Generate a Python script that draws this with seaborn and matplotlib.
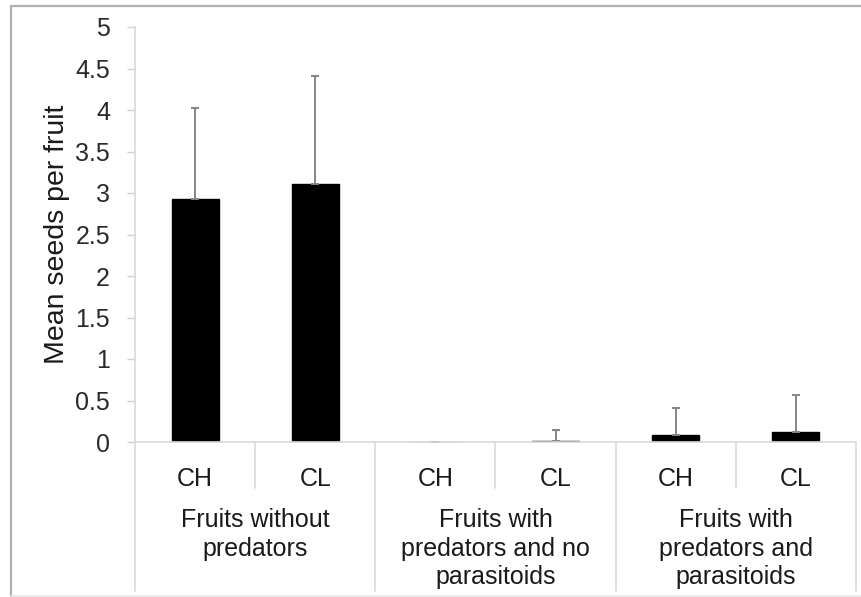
import numpy as np
import pandas as pd
import matplotlib
matplotlib.use('Agg')
import matplotlib.pyplot as plt
import matplotlib.transforms as mtransforms
from matplotlib.lines import Line2D
import seaborn as sns

# Data
groups = ["Fruits without\npredators",
          "Fruits with\npredators and no\nparasitoids",
          "Fruits with\npredators and\nparasitoids"]
fruit_types = ["CH", "CL"]
means = [2.93, 3.11, 0.0, 0.01, 0.09, 0.12]
upper_err = [1.09, 1.30, 0.0, 0.13, 0.32, 0.45]

sns.set_style('white')
plt.rcParams['font.family'] = ['Liberation Sans', 'DejaVu Sans']

bar_keys = [f"{g}|{t}" for g in groups for t in fruit_types]
df = pd.DataFrame({'bar': bar_keys, 'mean': means})

W, H = 862, 597
fig = plt.figure(figsize=(W / 100, H / 100), dpi=100)
ax = fig.add_axes([135 / W, (H - 442) / H, 721 / W, 415 / H])

sns.barplot(data=df, x='bar', y='mean', order=bar_keys, color='black',
            edgecolor='black', width=0.39, errorbar=None, ax=ax,
            saturation=1)

x = np.arange(len(means))
ax.errorbar(x, means, yerr=[np.zeros(len(means)), upper_err], fmt='none',
            ecolor='#858585', elinewidth=1.4, capsize=3, capthick=1.4, zorder=1)

ax.set_xlim(-0.5, len(means) - 0.5)
ax.set_ylim(0, 5)
ax.set_yticks(np.arange(0, 5.01, 0.5))
ax.set_yticklabels([f'{v:g}' for v in np.arange(0, 5.01, 0.5)])
ax.set_xticks(x)
ax.set_xticklabels(fruit_types * len(groups))
ax.tick_params(axis='x', length=0, pad=18, labelsize=18, labelcolor='#1a1a1a')
ax.tick_params(axis='y', length=6, width=1, color='#d0d0d0', pad=12,
               labelsize=18, labelcolor='#2a2a2a', left=True)
ax.set_xlabel('')
ax.set_ylabel('Mean seeds per fruit', fontsize=20.5, color='#1a1a1a')
ax.yaxis.set_label_coords(-0.09, 0.5)

for side in ['top', 'right']:
    ax.spines[side].set_visible(False)
for side in ['left', 'bottom']:
    ax.spines[side].set_color('#d9d9d9')
    ax.spines[side].set_linewidth(1.2)

# category separators below the axis
trans = mtransforms.blended_transform_factory(ax.transData, ax.transAxes)
for xi in [0.5, 2.5, 4.5]:
    ax.plot([xi, xi], [0, -0.111], transform=trans, color='#d9d9d9', lw=1.2, clip_on=False)
for xi in [-0.5, 1.5, 3.5, 5.5]:
    ax.plot([xi, xi], [0, -0.36], transform=trans, color='#d9d9d9', lw=1.2, clip_on=False)

# group labels
for i, g in enumerate(groups):
    ax.text(2 * i + 0.5, -0.158, g, transform=trans, ha='center', va='top',
            fontsize=18, color='#1a1a1a', linespacing=1.26)

# outer frame
fig.add_artist(Line2D([11 / W, 1.0], [1 - 6 / H, 1 - 6 / H], transform=fig.transFigure,
                      color='#b0b0b0', lw=1.6))
fig.add_artist(Line2D([11 / W, 11 / W], [0, 1 - 6 / H], transform=fig.transFigure,
                      color='#b0b0b0', lw=1.6))
fig.add_artist(Line2D([11 / W, 1.0], [1.5 / H, 1.5 / H], transform=fig.transFigure,
                      color='#e6e6e6', lw=1.2))

fig.savefig('out.png', dpi=100)
plt.close(fig)
